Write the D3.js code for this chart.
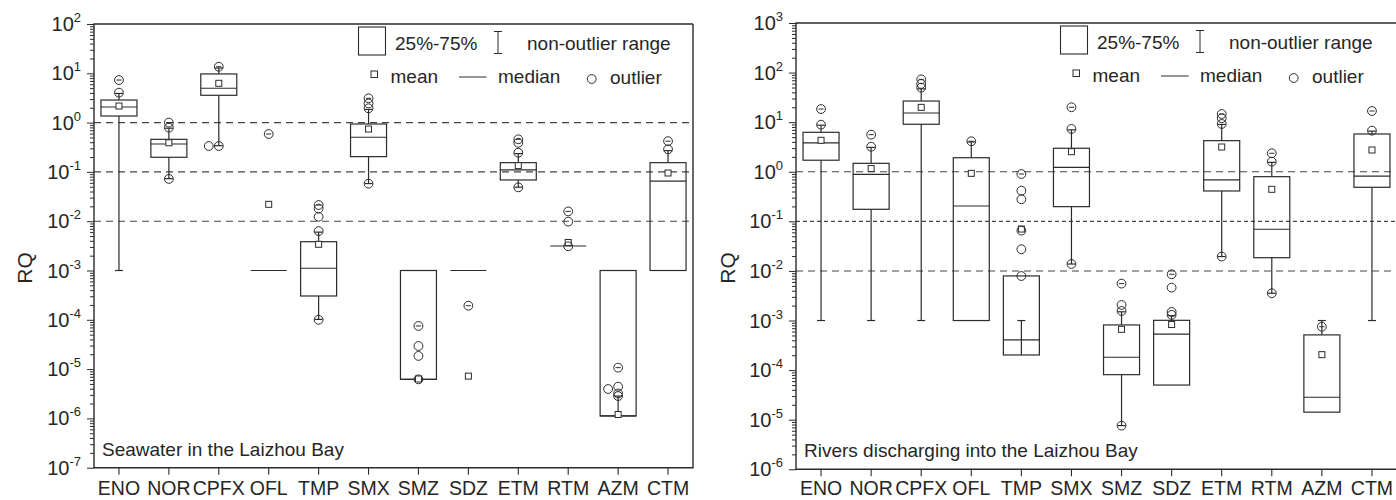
<!DOCTYPE html>
<html><head><meta charset="utf-8">
<script src="https://cdn.jsdelivr.net/npm/d3@7"></script>
<style>
body{margin:0;background:#fff}
svg{display:block}
text{font-family:"Liberation Sans",Arial,sans-serif;fill:#262626}
</style>
</head><body><svg id="c" width="1396" height="500"></svg>
<script>
// ---------- data ----------
const categories = ["ENO","NOR","CPFX","OFL","TMP","SMX","SMZ","SDZ","ETM","RTM","AZM","CTM"];

// Seawater in the Laizhou Bay
const seaQ1     = [1.36, 0.198, 3.58, 0.001, 0.000304, 0.204, 6.2e-6, 0.001, 0.0686, 0.00314, 1.12e-6, 0.001];
const seaQ3     = [2.87, 0.458, 9.7, 0.001, 0.00384, 0.937, 0.001, 0.001, 0.154, 0.00314, 0.001, 0.154];
const seaMedian = [2.07, 0.368, 4.97, 0.001, 0.00111, 0.504, 6.2e-6, 0.001, 0.11, 0.00314, 1.12e-6, 0.065];
const seaMean   = [2.17, 0.39, 6.27, 0.022, 0.0034, 0.74, 6.3e-6, 7.2e-6, 0.134, 0.0037, 1.2e-6, 0.095];
const seaWLo    = [0.001, 0.073, 0.34, 0.001, 0.000102, 0.058, 6.2e-6, 0.001, 0.049, 0.00314, 1.12e-6, 0.001];
const seaWHi    = [3.9, 0.77, 12.8, 0.001, 0.006, 1.85, 0.001, 0.001, 0.235, 0.00314, 2.84e-6, 0.27];
const seaOut    = [
  [7.3, 4.05],
  [1.0, 0.79, 0.072],
  [13.6, 0.335, 0.335],
  [0.587],
  [0.0213, 0.018, 0.0123, 0.0063, 0.0001],
  [3.11, 2.45, 1.95, 0.0577],
  [7.5e-5, 2.94e-5, 1.85e-5, 6.2e-6],
  [1.93e-4],
  [0.458, 0.39, 0.245, 0.0486],
  [0.0158, 0.0098, 0.0031],
  [1.07e-5, 4.4e-6, 3.95e-6, 3.2e-6, 2.84e-6],
  [0.42, 0.287]
];

// Rivers discharging into the Laizhou Bay
const rivQ1     = [1.71, 0.175, 9.08, 0.001, 0.000202, 0.198, 8.1e-5, 5.0e-5, 0.41, 0.0185, 1.42e-5, 0.486];
const rivQ3     = [6.25, 1.48, 26.7, 1.92, 0.00793, 2.98, 0.000815, 0.00101, 4.24, 0.796, 0.000513, 5.78];
const rivMedian = [3.81, 0.89, 15.3, 0.204, 0.000406, 1.23, 0.000182, 0.00053, 0.684, 0.0693, 2.84e-5, 0.82];
const rivMean   = [4.31, 1.16, 19.9, 0.93, 0.07, 2.54, 0.000665, 0.00083, 3.16, 0.443, 0.000205, 2.75];
const rivWLo    = [0.001, 0.001, 0.001, 0.001, 0.000202, 0.0138, 7.6e-6, 5.0e-5, 0.0195, 0.00355, 1.42e-5, 0.001];
const rivWHi    = [8.7, 3.1, 47, 4.0, 0.001, 7.0, 0.0015, 0.00125, 9.0, 1.55, 0.001, 6.6];
const rivOut    = [
  [18.4, 8.9],
  [5.6, 3.2],
  [73, 59, 49.7],
  [4.12],
  [0.9, 0.416, 0.279, 0.065, 0.0274, 0.0079],
  [20, 7.3, 0.0138],
  [0.00555, 0.00206, 0.00156, 7.6e-6],
  [0.00857, 0.00461, 0.00149, 0.0013],
  [14.6, 12, 9.2, 0.0195],
  [2.36, 1.6, 0.00355],
  [0.00075],
  [16.8, 6.75]
];

const seaExp = [-7, 2];   // y-axis exponent range
const rivExp = [-6, 3];
const refLines = [1, 0.1, 0.01];
const legendLabels = ["25%-75%", "non-outlier range", "mean", "median", "outlier"];
const axisTitle = "RQ";

// ---------- layout ----------
const panels = [
  {title:"Seawater in the Laizhou Bay", q1:seaQ1, q3:seaQ3, med:seaMedian, mean:seaMean, wlo:seaWLo, whi:seaWHi, out:seaOut,
   exp:seaExp, x0:94, x1:693, y0:24, y1:467.7, dashes:["7,5","7,5","7,5"], rqX:24},
  {title:"Rivers discharging into the Laizhou Bay", q1:rivQ1, q3:rivQ3, med:rivMedian, mean:rivMean, wlo:rivWLo, whi:rivWHi, out:rivOut,
   exp:rivExp, x0:796, x1:1397, y0:23, y1:469.3, dashes:["7,5","4,3","7,5"], rqX:727}
];

const svg = d3.select("#c");
const ink = "#2b2b2b";
const bw = 36, capW = 8, r = 4.4;

panels.forEach(p => {
  const g = svg.append("g");
  const x = d3.scaleBand().domain(categories).range([p.x0, p.x1]).padding(0);
  const y = d3.scaleLog().domain([+("1e"+p.exp[0]), +("1e"+p.exp[1])]).range([p.y1, p.y0]);
  const majors = d3.range(p.exp[0], p.exp[1]+1).map(e => +("1e"+e));
  const minors = [];
  d3.range(p.exp[0], p.exp[1]).forEach(e => { for (let k=2;k<=9;k++) minors.push(+(k+"e"+e)); });

  // reference dashed lines
  refLines.forEach((v,i) => {
    g.append("line").attr("x1", p.x0).attr("x2", p.x1).attr("y1", y(v)).attr("y2", y(v))
      .attr("stroke", "#444").attr("stroke-width", 1.1).attr("stroke-dasharray", p.dashes[i]);
  });

  // y axis ticks
  const ya = g.append("g").attr("transform", `translate(${p.x0},0)`)
    .call(d3.axisLeft(y).tickValues(majors).tickSize(7).tickFormat(""));
  ya.select(".domain").remove();
  const ym = g.append("g").attr("transform", `translate(${p.x0},0)`)
    .call(d3.axisLeft(y).tickValues(minors).tickSize(4).tickFormat(""));
  ym.select(".domain").remove();
  g.selectAll(".tick line").attr("stroke", ink).attr("stroke-width", 1);

  // y tick labels
  d3.range(p.exp[0], p.exp[1]+1).forEach(e => {
    const t = g.append("text").attr("x", p.x0 - 13).attr("y", y(+("1e"+e)) + 7)
      .attr("text-anchor", "end").attr("font-size", 20);
    t.append("tspan").text("10");
    t.append("tspan").attr("font-size", 13).attr("dy", -9).text(String(e));
  });

  // x axis
  const xa = g.append("g").attr("transform", `translate(0,${p.y1})`)
    .call(d3.axisBottom(x).tickSize(7).tickFormat(""));
  xa.select(".domain").remove();
  xa.selectAll(".tick line").attr("stroke", ink).attr("stroke-width", 1.1);
  categories.forEach(c => {
    g.append("text").attr("x", x(c) + x.bandwidth()/2).attr("y", 494.5)
      .attr("text-anchor", "middle").attr("font-size", 19.5).text(c);
  });

  // frame
  g.append("path")
    .attr("d", `M${p.x1},${p.y0}H${p.x0}V${p.y1}H${p.x1}V${p.y0}`)
    .attr("fill", "none").attr("stroke", ink).attr("stroke-width", 1.4);

  // boxes
  categories.forEach((c, i) => {
    const cx = x(c) + x.bandwidth()/2;
    const q1 = p.q1[i], q3 = p.q3[i], lo = p.wlo[i], hi = p.whi[i];
    const line = (x1,y1,x2,y2) => g.append("line").attr("x1",x1).attr("y1",y1).attr("x2",x2).attr("y2",y2)
      .attr("stroke", ink).attr("stroke-width", 1.2);
    // whiskers
    const inside = lo >= q1 && hi <= q3 && (lo > q1 || hi < q3);
    if (inside) {
      line(cx, y(lo), cx, y(hi));
    } else {
      if (hi > q3) line(cx, y(q3), cx, y(hi));
      if (lo < q1) line(cx, y(q1), cx, y(lo));
    }
    if (hi !== q3) line(cx - capW/2, y(hi), cx + capW/2, y(hi));
    if (lo !== q1) line(cx - capW/2, y(lo), cx + capW/2, y(lo));
    // box
    g.append("rect").attr("x", cx - bw/2).attr("y", y(q3)).attr("width", bw)
      .attr("height", Math.max(0, y(q1) - y(q3))).attr("fill", "none")
      .attr("stroke", ink).attr("stroke-width", 1.2);
    // median
    line(cx - bw/2, y(p.med[i]), cx + bw/2, y(p.med[i]));
    // mean
    g.append("rect").attr("x", cx - 3).attr("y", y(p.mean[i]) - 3).attr("width", 6).attr("height", 6)
      .attr("fill", "#fff").attr("stroke", ink).attr("stroke-width", 1);
    // outliers
    const placed = [];
    const outs = p.out[i];
    const vmax = d3.max(outs);
    outs.forEach(v => {
      const yy = y(v);
      let dx = 0;
      if (placed.some(py => Math.abs(py - yy) < 2.5)) dx = -10; else placed.push(yy);
      g.append("circle").attr("cx", cx + dx).attr("cy", yy).attr("r", r)
        .attr("fill", "none").attr("stroke", ink).attr("stroke-width", 1);
      if (v === vmax) line(cx - 2.6, yy, cx + 2.6, yy).attr("stroke-width", 1);
    });
  });

  // panel title
  g.append("text").attr("x", p.x0 + 8).attr("y", p.y1 - 12).attr("font-size", 19).text(p.title);

  // RQ label
  g.append("text").attr("transform", `translate(${p.rqX},268) rotate(-90)`)
    .attr("text-anchor", "middle").attr("dominant-baseline", "central")
    .attr("font-size", 21).text(axisTitle);

  // legend
  const L = g.append("g").attr("transform", `translate(${p.x0},${p.y0})`);
  L.append("rect").attr("x", 264.5).attr("y", 3).attr("width", 27).attr("height", 28)
    .attr("fill", "none").attr("stroke", ink).attr("stroke-width", 1.1);
  L.append("text").attr("x", 301).attr("y", 25.5).attr("font-size", 19).text(legendLabels[0]);
  L.append("line").attr("x1", 404).attr("x2", 404).attr("y1", 7.5).attr("y2", 29.5).attr("stroke", ink);
  L.append("line").attr("x1", 400).attr("x2", 408).attr("y1", 7.5).attr("y2", 7.5).attr("stroke", ink);
  L.append("line").attr("x1", 400).attr("x2", 408).attr("y1", 29.5).attr("y2", 29.5).attr("stroke", ink);
  L.append("text").attr("x", 433).attr("y", 25.5).attr("font-size", 19).text(legendLabels[1]);
  L.append("rect").attr("x", 277).attr("y", 47).attr("width", 6.5).attr("height", 6.5)
    .attr("fill", "#fff").attr("stroke", ink).attr("stroke-width", 1);
  L.append("text").attr("x", 296.5).attr("y", 58.5).attr("font-size", 19).text(legendLabels[2]);
  L.append("line").attr("x1", 365).attr("x2", 392.5).attr("y1", 53).attr("y2", 53).attr("stroke", ink);
  L.append("text").attr("x", 404).attr("y", 58.5).attr("font-size", 19).text(legendLabels[3]);
  L.append("circle").attr("cx", 497.7).attr("cy", 55).attr("r", 4.4)
    .attr("fill", "none").attr("stroke", ink);
  L.append("text").attr("x", 516).attr("y", 60).attr("font-size", 19).text(legendLabels[4]);
});
</script>
</body></html>
